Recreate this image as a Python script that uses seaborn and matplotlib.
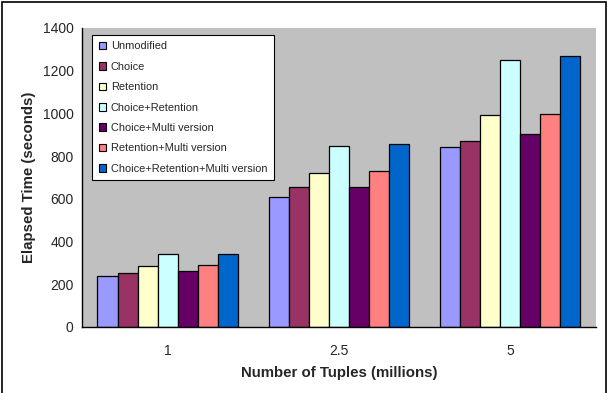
import pandas as pd
import matplotlib.pyplot as plt
import matplotlib.patches as mpatches
import seaborn as sns

# data
tuples = ["1", "2.5", "5"]
variants = ["Unmodified", "Choice", "Retention", "Choice+Retention",
            "Choice+Multi version", "Retention+Multi version",
            "Choice+Retention+Multi version"]
unmodified = [240, 608, 843]
choice = [253, 655, 872]
retention = [285, 722, 990]
choice_retention = [340, 847, 1248]
choice_multi = [260, 655, 903]
retention_multi = [290, 728, 995]
choice_retention_multi = [340, 857, 1268]
colors = ["#9999FF", "#993366", "#FFFFCC", "#CCFFFF", "#660066", "#FF8080", "#0066CC"]

series = [unmodified, choice, retention, choice_retention,
          choice_multi, retention_multi, choice_retention_multi]
rows = []
for name, vals in zip(variants, series):
    for t, v in zip(tuples, vals):
        rows.append({"Tuples": t, "Variant": name, "Time": v})
df = pd.DataFrame(rows)

sns.set_style("white")
plt.rcParams["font.family"] = ["Liberation Sans", "DejaVu Sans"]

fig = plt.figure(figsize=(6.08, 3.93), dpi=100)
ax = fig.add_axes([0.135, 0.168, 0.845, 0.761])
ax.set_facecolor("#C0C0C0")

sns.barplot(data=df, x="Tuples", y="Time", hue="Variant", order=tuples,
            hue_order=variants, palette=colors, saturation=1, width=0.82, gap=0,
            edgecolor="black", linewidth=0.9, errorbar=None, ax=ax)

ax.set_ylim(0, 1400)
ax.set_yticks(range(0, 1401, 200))
ax.set_xlim(-0.5, 2.5)
ax.set_xticks([0, 1, 2])
ax.set_xticklabels(tuples)
ax.set_xticks([-0.5, 0.5, 1.5, 2.5], minor=True)
ax.tick_params(axis="x", which="major", length=0, pad=12, labelsize=10)
ax.tick_params(axis="x", which="minor", length=5, width=1, color="black", direction="out")
ax.tick_params(axis="y", length=4, width=1, color="black", direction="out", labelsize=10, pad=2)

for s in ["top", "right"]:
    ax.spines[s].set_visible(False)
for s in ["left", "bottom"]:
    ax.spines[s].set_color("black")
    ax.spines[s].set_linewidth(1)

ax.set_xlabel("Number of Tuples (millions)", fontsize=10.8, fontweight="bold", labelpad=6)
ax.set_ylabel("Elapsed Time (seconds)", fontsize=10.8, fontweight="bold", labelpad=5)

handles = [mpatches.Patch(facecolor=c, edgecolor="black", linewidth=0.8, label=n)
           for c, n in zip(colors, variants)]
ax.get_legend().remove()
leg = ax.legend(handles=handles, loc="upper left", bbox_to_anchor=(0.0195, 0.977),
                fontsize=7.9, frameon=True, fancybox=False, framealpha=1,
                handlelength=0.7, handleheight=0.7, handletextpad=0.4,
                labelspacing=0.95, borderpad=0.6, borderaxespad=0)
leg.get_frame().set_edgecolor("black")
leg.get_frame().set_linewidth(0.8)

# outer frame around the figure
fig.patches.append(mpatches.Rectangle((0.003, -0.01), 0.994, 1.005, transform=fig.transFigure,
                                      fill=False, edgecolor="black", linewidth=1.2))

fig.savefig("out.png", dpi=100)
